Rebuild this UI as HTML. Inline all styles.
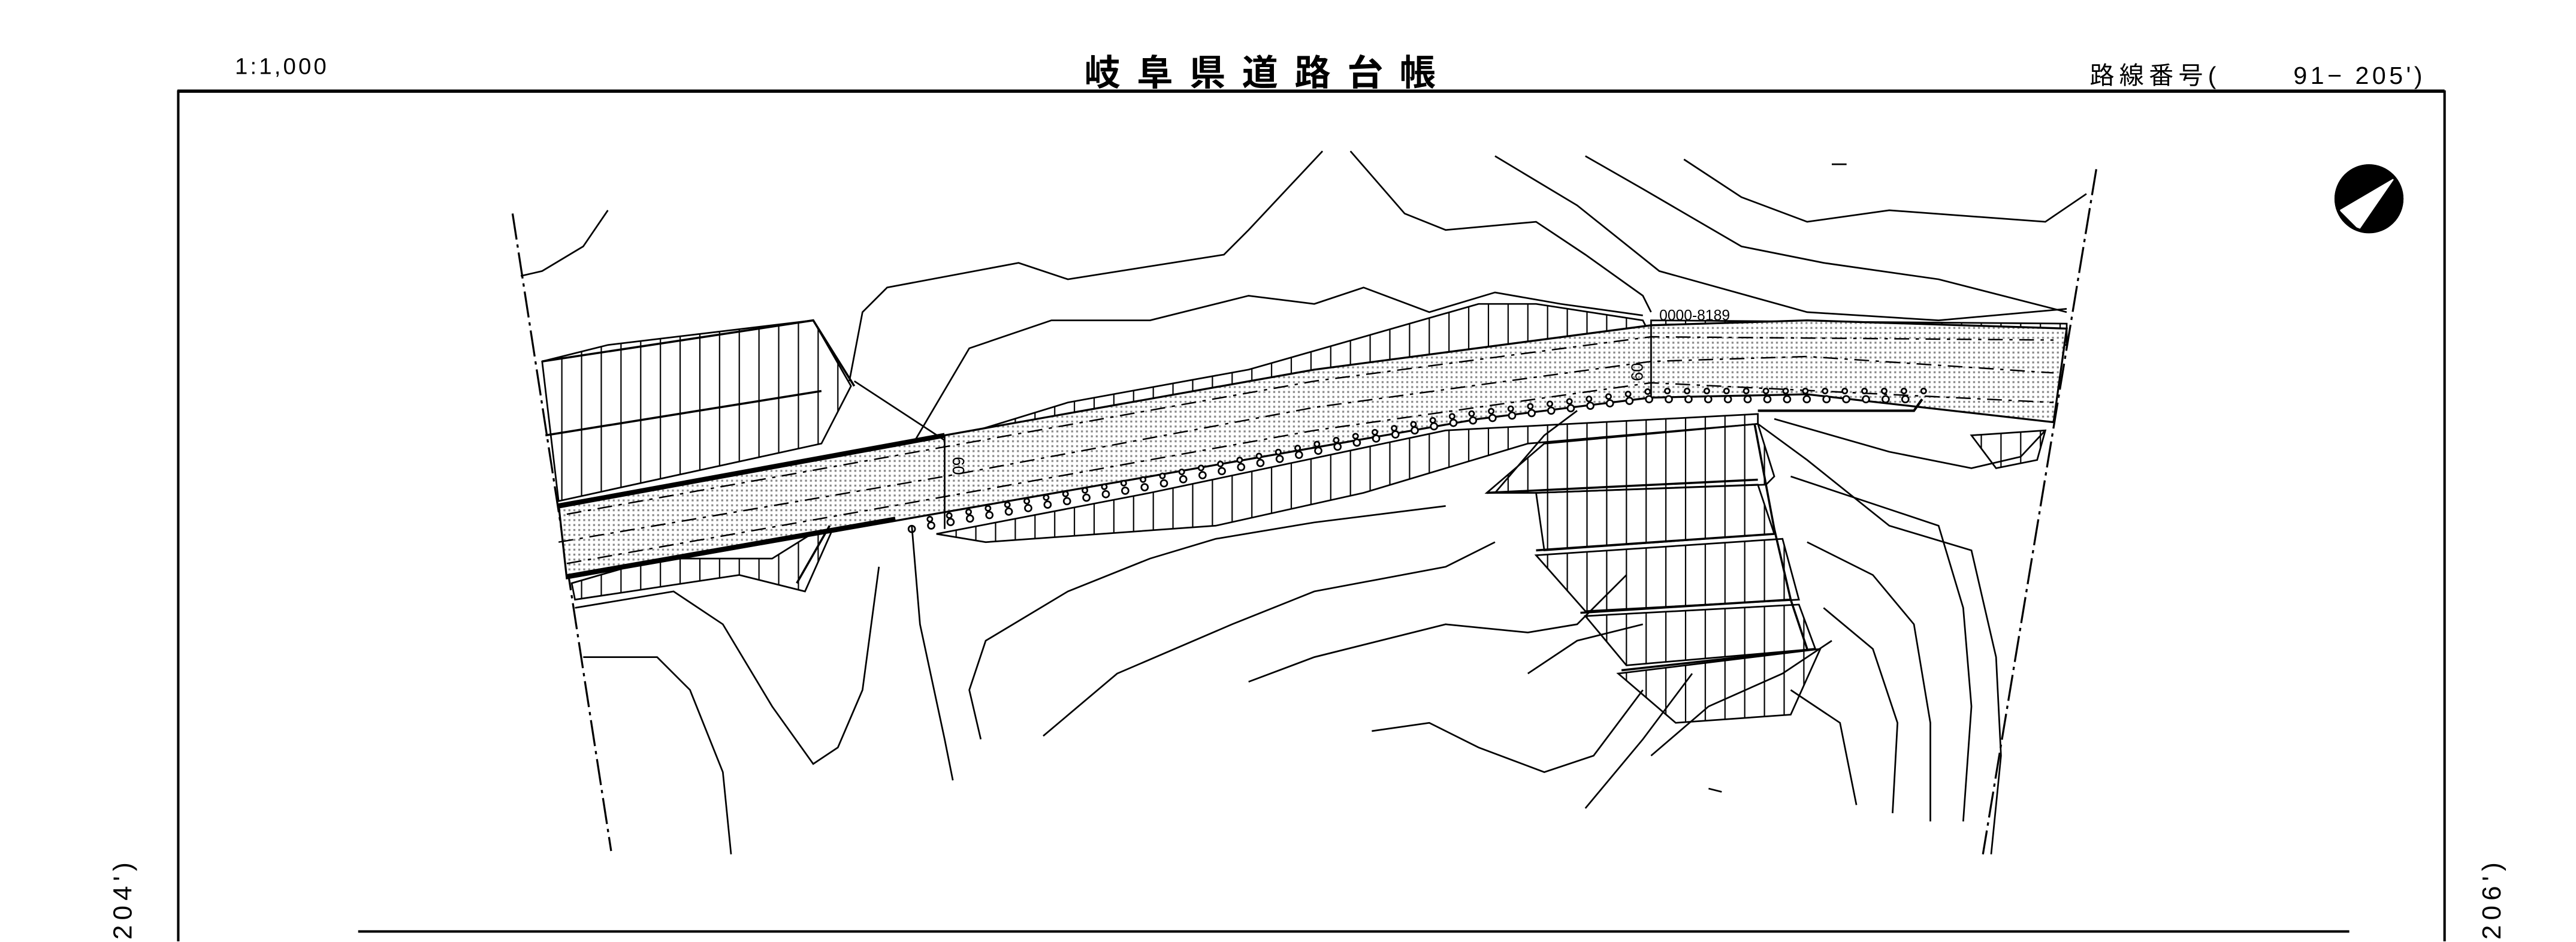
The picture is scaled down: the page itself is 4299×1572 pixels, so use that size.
<!DOCTYPE html>
<html><head><meta charset="utf-8"><style>
html,body{margin:0;padding:0;background:#fff;}
svg{display:block;}
text{font-family:"Liberation Sans","Noto Sans CJK JP",sans-serif;fill:#000;}
</style></head><body>
<svg width="4299" height="1572" viewBox="0 0 1568 573.4" preserveAspectRatio="none" xmlns="http://www.w3.org/2000/svg">
<defs>
<pattern id="vh" width="12" height="20" patternUnits="userSpaceOnUse"><line x1="6" y1="0" x2="6" y2="20" stroke="#000" stroke-width="0.8"/></pattern>
<pattern id="dot" width="3" height="3" patternUnits="userSpaceOnUse"><rect width="3" height="3" fill="#fff"/><rect x="1" y="1" width="1.2" height="1.2" fill="#888"/></pattern>
</defs>
<rect width="1568" height="573.4" fill="#fff"/>
<!-- header -->
<text x="143" y="45" font-size="14" letter-spacing="1.5">1:1,000</text>
<text x="660" y="52" font-size="22" letter-spacing="10" font-weight="bold">岐阜県道路台帳</text>
<text x="1272" y="51" font-size="15" letter-spacing="3">路線番号(</text>
<text x="1396" y="51" font-size="15" letter-spacing="2">91− 205')</text>
<line x1="108" y1="55.5" x2="1488" y2="55.5" stroke="#000" stroke-width="2"/>
<line x1="108.5" y1="55" x2="108.5" y2="573" stroke="#000" stroke-width="1.5"/>
<line x1="1488" y1="55" x2="1488" y2="573" stroke="#000" stroke-width="1.5"/>
<line x1="218" y1="567" x2="1430" y2="567" stroke="#000" stroke-width="1.5"/>
<text transform="translate(80,572) rotate(-90)" font-size="16" letter-spacing="3">204')</text>
<text transform="translate(1522,572) rotate(-90)" font-size="16" letter-spacing="3">206')</text>
<!-- north arrow -->
<circle cx="1442" cy="121" r="21" fill="#000"/>
<path d="M1424 128 L1458 108 L1436 140 Z" fill="#fff"/>
<circle cx="1442" cy="121" r="20" fill="none" stroke="#000" stroke-width="2"/>
<!-- boundaries -->
<g stroke="#000" stroke-width="1.2" fill="none" stroke-dasharray="16 3 2 3">
<path d="M312 130 L372 518"/>
<path d="M1276 103 L1207 520"/>
</g>
<!-- hatched areas -->
<g stroke="#000" stroke-width="1" fill="url(#vh)">
<path d="M330 220 L370 210 L495 195 L518 235 L500 270 L340 305 Z"/>
<path d="M348 355 L400 340 L470 340 L510 315 L490 360 L450 350 L350 365 Z"/>
<path d="M575 268 L650 245 L760 225 L900 185 L935 185 L1000 195 L1005 205 L900 215 L800 230 L660 250 Z"/>
<path d="M1005 195 L1258 197 L1258 210 L1005 208 Z"/>
<path d="M570 325 L700 300 L880 262 L1070 252 L1070 258 L930 270 L830 300 L740 320 L600 330 Z"/>
<path d="M905 300 L940 270 L1070 258 L1080 290 L1075 295 L935 300 Z"/>
<path d="M935 300 L1070 295 L1080 325 L940 335 Z"/>
<path d="M935 338 L1085 328 L1095 365 L965 372 Z"/>
<path d="M965 375 L1095 368 L1105 395 L990 405 Z"/>
<path d="M985 410 L1108 395 L1090 435 L1020 440 Z"/>
<path d="M1200 265 L1245 262 L1240 280 L1215 285 Z"/>
</g>
<!-- road -->
<path d="M340 307 L575 265 L800 225 L1005 198 L1100 195 L1258 200 L1250 257 L1100 240 L1005 242 L900 255 L700 290 L545 317 L345 352 Z" fill="url(#dot)" stroke="#000" stroke-width="1.2"/>
<g fill="none" stroke="#000" stroke-width="0.9" stroke-dasharray="9 4 2 4">
<path d="M340 330 L575 290 L800 248 L1005 220 L1100 217 L1250 227"/>
<path d="M345 343 L560 305 L800 262 L1005 233 L1250 245"/>
<path d="M345 313 L575 272 L800 232 L1005 205 L1250 207"/>
</g>
<line x1="340" y1="308" x2="575" y2="265" stroke="#000" stroke-width="3"/>
<line x1="345" y1="351" x2="545" y2="316" stroke="#000" stroke-width="3"/>
<line x1="575" y1="265" x2="575" y2="322" stroke="#000" stroke-width="1"/>
<line x1="1005" y1="198" x2="1005" y2="242" stroke="#000" stroke-width="1"/>
<text transform="translate(580,278) rotate(90)" font-size="10">60</text>
<text transform="translate(1000,232) rotate(-90)" font-size="10">60</text>
<text x="1010" y="195" font-size="9">0000-8189</text>
<!-- ring dots -->
<g fill="none">
<path d="M555 322 L700 296 L880 258 L1000 243 L1165 243" stroke="#000" stroke-width="5" stroke-linecap="round" stroke-dasharray="0 12"/>
<path d="M555 322 L700 296 L880 258 L1000 243 L1165 243" stroke="#fff" stroke-width="3" stroke-linecap="round" stroke-dasharray="0 12"/>
<path d="M560 316 L700 290 L880 253 L1000 238 L1165 238" stroke="#000" stroke-width="4" stroke-linecap="round" stroke-dasharray="0 12" transform="translate(6,0)"/>
<path d="M560 316 L700 290 L880 253 L1000 238 L1165 238" stroke="#fff" stroke-width="2" stroke-linecap="round" stroke-dasharray="0 12" transform="translate(6,0)"/>
</g>
<path d="M1070 250 L1165 250 L1170 243" fill="none" stroke="#000" stroke-width="1.5"/>
<!-- contours -->
<g fill="none" stroke="#000" stroke-width="1">
<path d="M370 128 L355 150 L330 165 L317 168"/>
<path d="M805 92 L760 140 L745 155 L650 170 L620 160 L540 175 L525 190 L517 232"/>
<path d="M822 92 L855 130 L880 140 L935 135 L965 155 L1000 180 L1005 190"/>
<path d="M910 95 L960 125 L1010 165 L1100 190 L1180 195 L1258 188"/>
<path d="M965 95 L1000 115 L1060 150 L1110 160 L1180 170 L1258 190"/>
<path d="M1025 97 L1060 120 L1100 135 L1150 128 L1245 135 L1270 118"/>
<path d="M557 268 L590 212 L640 195 L700 195 L760 180 L800 185 L830 175 L870 190 L910 178 L950 185 L1000 192"/>
<path d="M520 232 L575 268"/>
<path d="M350 370 L410 360 L440 380 L470 430 L495 465 L510 455 L525 420 L535 345"/>
<path d="M355 400 L400 400 L420 420 L440 470 L445 520"/>
<path d="M555 320 L560 380 L575 450 L580 475"/>
<path d="M597 450 L590 420 L600 390 L650 360 L700 340 L740 328 L800 318 L880 308"/>
<path d="M635 448 L680 410 L750 380 L800 360 L880 345 L910 330"/>
<path d="M760 415 L800 400 L880 380 L930 385 L960 380 L990 350"/>
<path d="M835 445 L870 440 L900 455 L940 470 L970 460 L1000 420"/>
<path d="M965 492 L1000 450 L1030 410"/>
<path d="M910 300 L940 265 L960 250"/>
<path d="M1070 258 L1100 280 L1150 320 L1200 335 L1215 400 L1218 460 L1212 520"/>
<path d="M1080 255 L1150 275 L1200 285 L1230 278 L1245 262"/>
<path d="M1090 290 L1150 310 L1180 320 L1195 370 L1200 430 L1195 500"/>
<path d="M1100 330 L1140 350 L1165 380 L1175 440 L1175 500"/>
<path d="M1110 370 L1140 395 L1155 440 L1152 495"/>
<path d="M1090 420 L1120 440 L1130 490"/>
<path d="M1005 460 L1040 430 L1085 410 L1115 390"/>
<path d="M930 410 L960 390 L1000 380"/>
<path d="M1040 480 L1048 482"/>
<path d="M1115 100 L1124 100"/>
</g>
<!-- wall edges -->
<g fill="none" stroke="#000" stroke-width="1.3">
<path d="M905 300 L1070 292"/><path d="M935 335 L1080 325"/><path d="M962 373 L1090 365"/><path d="M987 408 L1105 395"/>
<path d="M1068 258 L1080 322 L1090 365 L1100 395"/>
<path d="M330 220 L495 195 L520 235"/><path d="M332 265 L500 238"/>
<path d="M485 355 L505 320"/>
</g>
</svg>
</body></html>
